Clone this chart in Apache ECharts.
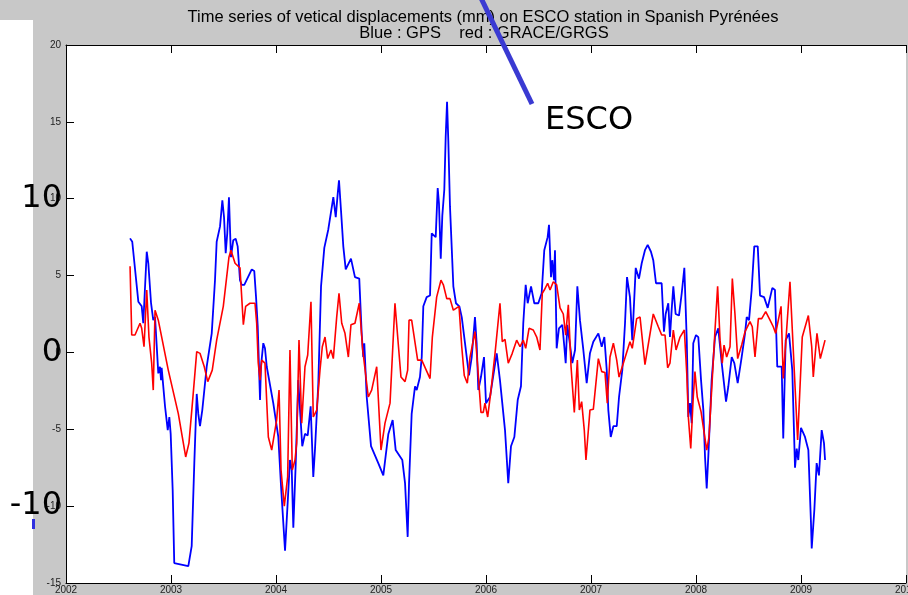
<!DOCTYPE html>
<html>
<head>
<meta charset="utf-8">
<script src="https://cdn.jsdelivr.net/npm/echarts@6/dist/echarts.min.js"></script>
<style>
  html, body { margin: 0; padding: 0; background: #fff; }
  #chart { width: 908px; height: 595px; }
</style>
</head>
<body>
<div id="chart"></div>
<script>
// GPS (blue) - decimal year / vertical displacement in mm
const gpsT = [2002.610, 2002.631, 2002.689, 2002.721, 2002.736, 2002.769, 2002.784, 2002.810, 2002.831, 2002.848,
  2002.879, 2002.895, 2002.905, 2002.911, 2002.943, 2002.969, 2002.984, 2002.997, 2003.016, 2003.031,
  2003.165, 2003.197, 2003.222, 2003.245, 2003.260, 2003.276, 2003.298, 2003.340, 2003.388, 2003.419,
  2003.435, 2003.467, 2003.489, 2003.505, 2003.521, 2003.536, 2003.552, 2003.571, 2003.593, 2003.616,
  2003.635, 2003.657, 2003.673, 2003.698, 2003.769, 2003.793, 2003.810, 2003.826, 2003.848, 2003.857,
  2003.879, 2003.895, 2003.912, 2003.974, 2004.022, 2004.048, 2004.086, 2004.111, 2004.133, 2004.150,
  2004.165, 2004.188, 2004.212, 2004.229, 2004.250, 2004.276, 2004.302, 2004.330, 2004.355, 2004.371,
  2004.403, 2004.429, 2004.460, 2004.498, 2004.546, 2004.569, 2004.588, 2004.600, 2004.619, 2004.641,
  2004.664, 2004.714, 2004.752, 2004.793, 2004.816, 2004.831, 2004.841, 2004.864, 2004.905, 2004.974,
  2005.022, 2005.070, 2005.111, 2005.140, 2005.203, 2005.229, 2005.254, 2005.267, 2005.292, 2005.324,
  2005.340, 2005.371, 2005.388, 2005.403, 2005.435, 2005.467, 2005.483, 2005.521, 2005.540, 2005.552,
  2005.569, 2005.584, 2005.603, 2005.616, 2005.629, 2005.641, 2005.657, 2005.689, 2005.714, 2005.746,
  2005.769, 2005.800, 2005.838, 2005.864, 2005.895, 2005.911, 2005.927, 2005.952, 2005.981, 2006.000,
  2006.038, 2006.102, 2006.133, 2006.181, 2006.212, 2006.238, 2006.270, 2006.302, 2006.333, 2006.355,
  2006.378, 2006.397, 2006.429, 2006.460, 2006.498, 2006.530, 2006.555, 2006.587, 2006.600, 2006.619,
  2006.631, 2006.648, 2006.657, 2006.673, 2006.695, 2006.727, 2006.746, 2006.759, 2006.774, 2006.800,
  2006.822, 2006.848, 2006.870, 2006.895, 2006.927, 2006.959, 2006.990, 2007.022, 2007.070, 2007.102,
  2007.127, 2007.150, 2007.165, 2007.188, 2007.213, 2007.245, 2007.267, 2007.298, 2007.324, 2007.343,
  2007.371, 2007.393, 2007.426, 2007.457, 2007.483, 2007.514, 2007.540, 2007.571, 2007.593, 2007.619,
  2007.673, 2007.695, 2007.711, 2007.736, 2007.752, 2007.768, 2007.784, 2007.806, 2007.838, 2007.864,
  2007.889, 2007.912, 2007.927, 2007.943, 2007.959, 2007.974, 2008.000, 2008.022, 2008.048, 2008.070,
  2008.086, 2008.102, 2008.117, 2008.149, 2008.181, 2008.212, 2008.245, 2008.260, 2008.286, 2008.308,
  2008.340, 2008.365, 2008.397, 2008.435, 2008.467, 2008.483, 2008.505, 2008.530, 2008.555, 2008.588,
  2008.610, 2008.648, 2008.683, 2008.727, 2008.752, 2008.774, 2008.816, 2008.831, 2008.854, 2008.886,
  2008.917, 2008.943, 2008.959, 2008.974, 2009.000, 2009.038, 2009.070, 2009.095, 2009.102, 2009.127,
  2009.149, 2009.171, 2009.197, 2009.219, 2009.229];
const gpsV = [7.42, 7.2, 3.3, 3.0, 1.9, 6.55, 5.8, 3.2, 2.1, 2.3,
  -1.36, -0.93, -1.8, -1.0, -3.5, -5.05, -4.2, -5.3, -8.95, -13.7,
  -13.9, -12.6, -7.2, -2.7, -4.0, -4.8, -3.75, -0.93, 1.24, 4.7,
  7.2, 8.2, 9.9, 8.8, 6.45, 7.75, 10.1, 6.2, 7.3, 7.4,
  6.9, 4.7, 4.4, 4.4, 5.4, 5.3, 3.6, 1.7, -3.1, -0.9,
  0.6, 0.27, -0.93, -3.3, -5.5, -8.7, -12.9, -9.8, -7.0, -7.65,
  -11.4, -7.2, -1.8, -3.75, -6.1, -5.3, -5.4, -3.5, -8.1, -6.35,
  -2.0, 4.3, 6.8, 8.0, 10.1, 8.8, 10.35, 11.2, 9.25, 6.9,
  5.4, 6.1, 4.9, 4.8, 1.24, -0.3, 0.6, -2.9, -6.1, -7.2,
  -8.0, -5.3, -4.4, -6.35, -7.0, -8.5, -12.0, -8.5, -4.0, -2.2,
  -2.45, -1.6, -0.3, 3.0, 3.6, 3.7, 7.75, 7.5, 10.7, 9.7,
  6.1, 8.9, 10.6, 14.0, 16.3, 13.8, 9.5, 4.3, 3.2, 3.0,
  2.3, 0.6, -1.5, -0.3, 2.3, 0.6, -2.45, -1.6, -0.3, -3.3,
  -2.9, -0.06, -1.8, -5.05, -8.5, -6.1, -5.5, -3.1, -2.2, 1.9,
  4.4, 3.2, 4.3, 3.2, 3.2, 3.85, 6.65, 7.5, 8.3, 4.9,
  6.0, 4.7, 6.65, 0.27, 1.57, 1.8, 0.37, -0.7, 1.8, 0.5,
  -0.7, 0.16, 4.3, 2.1, 0.16, -2.0, -0.06, 0.7, 1.24, 0.37,
  1.0, -1.15, -3.75, -5.5, -4.8, -4.8, -2.9, -1.15, 1.9, 4.9,
  3.6, 0.8, 5.5, 4.8, 5.8, 6.65, 7.0, 6.55, 6.0, 4.5,
  4.5, 1.35, 2.5, 3.2, 1.0, 2.75, 4.3, 2.5, 2.4, 3.85,
  5.5, 0.8, -4.2, -3.3, -4.6, 0.6, 1.13, 1.0, -1.8, -3.75,
  -6.8, -8.85, -6.8, -1.8, 1.0, 1.57, -0.7, -0.7, -3.2, -2.2,
  -0.3, -0.7, -2.0, -0.3, 1.24, 2.3, 2.1, 4.06, 6.9, 6.9,
  3.7, 3.6, 2.9, 4.2, 4.06, -0.93, -0.93, -5.6, 0.8, 1.24,
  -1.15, -7.5, -6.25, -7.0, -4.9, -5.5, -6.35, -11.1, -12.75, -10.25,
  -7.2, -8.0, -5.05, -5.9, -7.0];

// GRACE/GRGS (red)
const graceT = [2002.610, 2002.626, 2002.657, 2002.705, 2002.721, 2002.743, 2002.769, 2002.790, 2002.816, 2002.831,
  2002.848, 2002.864, 2002.879, 2002.974, 2003.070, 2003.140, 2003.171, 2003.212, 2003.245, 2003.276,
  2003.317, 2003.350, 2003.393, 2003.435, 2003.498, 2003.552, 2003.571, 2003.610, 2003.657, 2003.689,
  2003.711, 2003.752, 2003.800, 2003.816, 2003.831, 2003.848, 2003.864, 2003.895, 2003.927, 2003.959,
  2004.006, 2004.029, 2004.048, 2004.079, 2004.111, 2004.133, 2004.155, 2004.181, 2004.197, 2004.219,
  2004.245, 2004.276, 2004.302, 2004.333, 2004.355, 2004.388, 2004.419, 2004.441, 2004.467, 2004.492,
  2004.524, 2004.546, 2004.578, 2004.600, 2004.626, 2004.657, 2004.689, 2004.714, 2004.752, 2004.793,
  2004.826, 2004.879, 2004.911, 2004.959, 2005.000, 2005.038, 2005.086, 2005.133, 2005.190, 2005.229,
  2005.254, 2005.267, 2005.292, 2005.349, 2005.388, 2005.467, 2005.489, 2005.530, 2005.571, 2005.594,
  2005.626, 2005.657, 2005.689, 2005.743, 2005.769, 2005.793, 2005.822, 2005.848, 2005.895, 2005.921,
  2005.952, 2005.974, 2005.990, 2006.016, 2006.048, 2006.086, 2006.133, 2006.155, 2006.181, 2006.212,
  2006.250, 2006.292, 2006.324, 2006.355, 2006.378, 2006.410, 2006.450, 2006.483, 2006.514, 2006.536,
  2006.555, 2006.587, 2006.610, 2006.641, 2006.673, 2006.705, 2006.736, 2006.759, 2006.784, 2006.810,
  2006.841, 2006.870, 2006.889, 2006.911, 2006.936, 2006.952, 2006.990, 2007.022, 2007.070, 2007.102,
  2007.133, 2007.155, 2007.181, 2007.213, 2007.245, 2007.267, 2007.308, 2007.371, 2007.393, 2007.435,
  2007.467, 2007.514, 2007.593, 2007.641, 2007.673, 2007.705, 2007.730, 2007.752, 2007.784, 2007.810,
  2007.848, 2007.889, 2007.912, 2007.927, 2007.950, 2007.974, 2007.990, 2008.012, 2008.048, 2008.079,
  2008.102, 2008.124, 2008.149, 2008.181, 2008.206, 2008.229, 2008.250, 2008.267, 2008.292, 2008.324,
  2008.346, 2008.371, 2008.397, 2008.435, 2008.467, 2008.514, 2008.536, 2008.562, 2008.594, 2008.626,
  2008.664, 2008.705, 2008.736, 2008.759, 2008.810, 2008.831, 2008.895, 2008.968, 2009.012, 2009.070,
  2009.102, 2009.117, 2009.136, 2009.152, 2009.184, 2009.229];
const graceV = [5.6, 1.13, 1.13, 1.9, 1.57, 0.37, 4.06, 1.0, -0.7, -2.45,
  2.75, 2.65, 2.1, -1.15, -4.0, -6.8, -5.9, -2.65, 0.05, -0.06,
  -0.93, -1.9, -1.15, 0.8, 3.0, 6.2, 6.65, 5.8, 5.5, 1.8,
  3.0, 3.2, 3.2, 1.9, -0.7, -1.8, -0.5, -0.7, -5.5, -6.35,
  -4.4, -2.45, -7.65, -10.0, -8.1, 0.16, -7.65, -7.0, -5.9, 0.8,
  -4.6, -0.93, -0.17, 3.3, -4.2, -3.75, -1.15, 0.37, 1.0, -0.4,
  0.16, -0.4, 2.3, 3.85, 1.9, 1.24, -0.3, 1.8, 1.9, 3.2,
  0.16, -2.9, -2.45, -0.93, -6.35, -4.6, -3.3, 3.2, -1.6, -1.9,
  -1.15, 2.1, 2.1, -0.5, -0.5, -1.7, 1.0, 3.6, 4.7, 4.4,
  3.5, 3.5, 2.75, 3.0, 0.37, -1.5, -2.0, -0.3, 1.35, -0.93,
  -3.9, -3.9, -3.3, -4.2, -2.45, -0.06, 3.2, 0.7, 0.85, -0.7,
  -0.06, 0.8, 0.37, 0.8, 0.27, 1.57, 1.46, 1.0, 0.16, 3.85,
  4.06, 4.5, 4.06, 4.6, 4.4, 2.9, 2.5, 1.13, 3.1, -0.93,
  -3.9, -0.5, -3.75, -3.2, -5.05, -7.0, -3.75, -3.7, -0.4, -1.25,
  -1.3, -3.3, -0.3, 0.6, -0.5, -1.6, -0.7, 0.7, 0.27, 2.2,
  2.3, -0.8, 2.5, 1.67, 1.13, 1.13, -1.0, -0.7, 1.46, 0.16,
  1.0, 1.46, -1.36, -4.2, -6.25, -2.9, -1.25, -2.9, -3.85, -5.3,
  -6.35, -5.5, -2.45, 1.46, 4.3, 0.8, -0.7, 0.48, -0.3, 0.37,
  4.8, 2.5, -0.4, 0.48, 1.35, 2.0, 1.67, -0.3, 2.2, 2.2,
  2.65, 2.1, 1.67, 1.24, 3.0, -1.7, 4.6, -5.7, 1.0, 2.4,
  0.37, -1.6, -1.7, 1.24, -0.4, 0.8];

const bigLabels = ['10', '0', '-10'];
const bigLabelValues = [10, 0, -10];

const chart = echarts.init(document.getElementById('chart'));

const gpsData = gpsT.map((t, i) => [t, gpsV[i]]);
const graceData = graceT.map((t, i) => [t, graceV[i]]);

const axisFont = { fontFamily: 'Liberation Sans', fontSize: 10, color: '#222', formatter: v => String(v) };

const option = {
  backgroundColor: '#c8c8c8',
  animation: false,
  grid: {
    left: 66, right: 2, top: 45, bottom: 12,
    outerBoundsMode: 'none', containLabel: false,
    show: true, backgroundColor: '#ffffff', borderWidth: 0
  },
  xAxis: [
    {
      type: 'value', min: 2002, max: 2010, interval: 1,
      axisLine: { onZero: false, lineStyle: { color: '#000', width: 1 } },
      axisTick: { inside: true, length: 8, lineStyle: { color: '#000' } },
      axisLabel: Object.assign({ margin: 2, showMaxLabel: true, showMinLabel: true, hideOverlap: false }, axisFont),
      splitLine: { show: false }
    },
    {
      type: 'value', position: 'top', min: 2002, max: 2010, interval: 1,
      axisLine: { onZero: false, lineStyle: { color: '#000', width: 1 } },
      axisTick: { inside: true, length: 8, lineStyle: { color: '#000' } },
      axisLabel: { show: false },
      splitLine: { show: false }
    }
  ],
  yAxis: {
    type: 'value', min: -15, max: 20, interval: 5,
    axisLine: { show: true, onZero: false, lineStyle: { color: '#000', width: 1 } },
    axisTick: { show: true, inside: true, length: 8, lineStyle: { color: '#000' } },
    axisLabel: Object.assign({ margin: 5 }, axisFont),
    splitLine: { show: false }
  },
  series: [
    {
      name: 'GPS', type: 'line', data: gpsData, showSymbol: false,
      lineStyle: { color: '#0000ff', width: 1.8 }, itemStyle: { color: '#0000ff' }
    },
    {
      name: 'GRACE/GRGS', type: 'line', data: graceData, showSymbol: false,
      lineStyle: { color: '#ff0000', width: 1.6 }, itemStyle: { color: '#ff0000' }
    }
  ]
};

chart.setOption(option);

// overlays placed after layout so they follow the axes
const g = [
  // white slide strip on the left
  { type: 'rect', shape: { x: 0, y: 20, width: 33, height: 575 }, style: { fill: '#ffffff' }, z: 0 },
  { type: 'rect', shape: { x: 32, y: 519, width: 3, height: 10 }, style: { fill: '#3030e0' }, z: 0 },
  {
    type: 'text', x: 483, y: 17, z: 10,
    style: {
      text: 'Time series of vetical displacements (mm) on ESCO station in Spanish Pyrénées',
      fontFamily: 'Liberation Sans', fontSize: 16.5, fill: '#000',
      textAlign: 'center', textVerticalAlign: 'middle'
    }
  },
  {
    type: 'text', x: 484, y: 33, z: 10,
    style: {
      text: 'Blue : GPS    red : GRACE/GRGS',
      fontFamily: 'Liberation Sans', fontSize: 16.5, fill: '#000',
      textAlign: 'center', textVerticalAlign: 'middle'
    }
  },
  {
    type: 'line', z: 20,
    shape: { x1: 481, y1: -2, x2: 532, y2: 104 },
    style: { stroke: '#3a3ad2', lineWidth: 5 }
  },
  {
    type: 'text', x: 545, y: 121, z: 20,
    style: {
      text: 'ESCO', fontFamily: 'DejaVu Sans', fontSize: 32, fill: '#000',
      textVerticalAlign: 'middle'
    }
  }
];
bigLabels.forEach((s, i) => {
  const y = chart.convertToPixel({ yAxisIndex: 0 }, bigLabelValues[i]);
  g.push({
    type: 'text', x: 62, y: y, z: 20,
    style: {
      text: s, fontFamily: 'DejaVu Sans', fontSize: 32, fill: '#000',
      textAlign: 'right', textVerticalAlign: 'middle'
    }
  });
});
chart.setOption({ graphic: g });
</script>
</body>
</html>
